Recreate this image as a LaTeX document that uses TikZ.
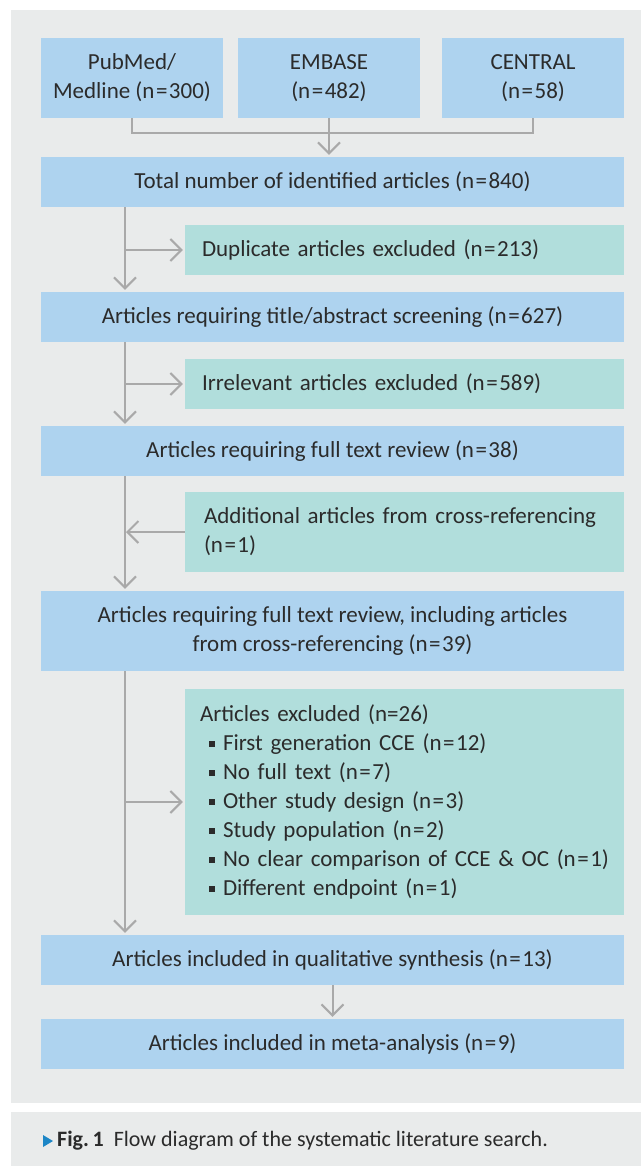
\documentclass[tikz,border=0pt]{standalone}
\usepackage{fontspec}
\setmainfont{Carlito}
\usetikzlibrary{arrows.meta}
\definecolor{panel}{HTML}{E9EBEB}
\definecolor{boxblue}{HTML}{AED3EF}
\definecolor{boxteal}{HTML}{B1DEDC}
\definecolor{linegray}{HTML}{A9A9A9}
\definecolor{txt}{HTML}{2B2B2B}
\definecolor{tri}{HTML}{1D86C6}
\newcommand\sqb{\hspace*{9pt}\makebox[14pt][l]{\rule[4pt]{5.5pt}{5.5pt}}}
\newcommand\eqs{\kern1.5pt=\kern1.5pt}
\begin{document}
\begin{tikzpicture}[x=1pt,y=-1pt,
 every node/.style={font=\fontsize{23}{29}\selectfont, text=txt},
 bluebox/.style={fill=boxblue, inner sep=0pt, align=center, minimum height=50pt},
 tealbox/.style={fill=boxteal, inner ysep=0pt, align=left, minimum height=50pt},
 flow/.style={draw=linegray, line width=2pt},
 arr/.style={flow, shorten >=2pt, -{Straight Barb[length=11pt,width=22pt]}}]
\useasboundingbox (0,0) rectangle (641,1166);
\fill[panel] (11,10) rectangle (641,1103);
\fill[panel] (11,1112) rectangle (641,1166);
% top sources
\node[bluebox, minimum width=182pt, minimum height=80pt] (pub) at (132,78) {PubMed/\\Medline (n\eqs300)};
\node[bluebox, minimum width=182pt, minimum height=80pt] (emb) at (329,78) {EMBASE\\(n\eqs482)};
\node[bluebox, minimum width=182pt, minimum height=80pt] (cen) at (533,78) {CENTRAL\\(n\eqs58)};
\node[bluebox, minimum width=583pt] (total) at (332.5,182) {Total number of identified articles (n\eqs840)};
\node[tealbox, text width=405pt, inner xsep=17pt] (dup) at (404.5,250) {Duplicate articles excluded (n\eqs213)};
\node[bluebox, minimum width=583pt] (title) at (332.5,317) {Articles requiring title/abstract screening (n\eqs627)};
\node[tealbox, text width=405pt, inner xsep=17pt] (irr) at (404.5,384) {Irrelevant articles excluded (n\eqs589)};
\node[bluebox, minimum width=583pt] (full) at (332.5,451) {Articles requiring full text review (n\eqs38)};
\node[tealbox, text width=401pt, inner xsep=19pt, minimum height=80pt] (add) at (404.5,532) {\mbox{Additional articles from cross-referencing}\\(n\eqs1)};
\node[bluebox, minimum width=583pt, minimum height=80pt] (full2) at (332.5,631) {Articles requiring full text review, including articles\\from cross-referencing (n\eqs39)};
\node[tealbox, text width=409pt, inner xsep=15pt, minimum height=226pt] (excl) at (404.5,802) {Articles excluded (n=26)\\
\sqb First generation CCE (n\eqs12)\\
\sqb No full text (n\eqs7)\\
\sqb Other study design (n\eqs3)\\
\sqb Study population (n\eqs2)\\
\sqb No clear comparison of CCE \& OC (n\eqs1)\\
\sqb Different endpoint (n\eqs1)};
\node[bluebox, minimum width=583pt] (qual) at (332.5,960) {Articles included in qualitative synthesis (n\eqs13)};
\node[bluebox, minimum width=583pt] (meta) at (332.5,1044) {Articles included in meta-analysis (n\eqs9)};
% connectors
\coordinate (jn) at (329,133);
\coordinate (sp) at (125,0);
\draw[flow] (pub.south) |- (jn) -| (cen.south);
\draw[arr] (emb.south) -- (emb.south |- total.north);
\draw[arr] (total.south -| sp) -- (title.north -| sp);
\draw[arr] (dup.west -| sp) -- (dup.west);
\draw[arr] (title.south -| sp) -- (full.north -| sp);
\draw[arr] (irr.west -| sp) -- (irr.west);
\draw[arr] (full.south -| sp) -- (full2.north -| sp);
\draw[arr, shorten >=1pt] (add.west) -- (add.west -| sp);
\draw[arr] (full2.south -| sp) -- (qual.north -| sp);
\draw[arr] (excl.west -| sp) -- (excl.west);
\draw[arr] (qual.south) -- (meta.north);
% caption
\fill[tri] (43,1135) -- (53,1141) -- (43,1147) -- cycle;
\node[anchor=west, inner sep=0pt, font=\fontsize{22}{26}\selectfont] (cap) at (57,1141) {\textbf{Fig.\,1}\hspace{10pt}Flow diagram of the systematic literature search.};
\end{tikzpicture}
\end{document}
